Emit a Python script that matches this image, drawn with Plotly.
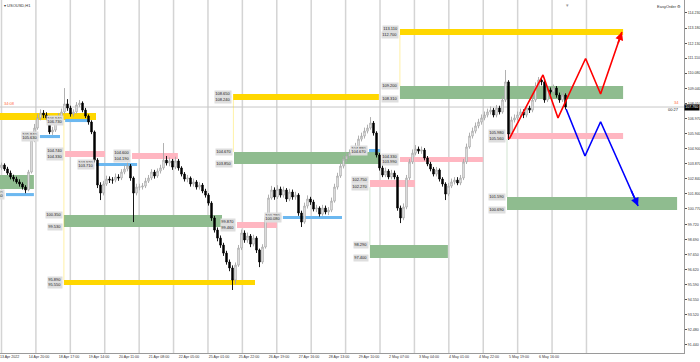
import numpy as np
import plotly.graph_objects as go

symbol = "USOUSD,H1"

# 2-hour candles (prices)
opens = [103.60,103.78,103.51,103.23,102.96,102.82,102.62,102.48,102.27,102.07,
         103.30,105.50,106.32,107.01,107.35,107.21,107.01,106.05,106.18,106.73,
         107.14,107.42,107.97,107.69,107.28,107.42,107.90,108.03,107.55,107.14,
         106.73,106.05,104.12,102.41,101.86,102.48,102.82,102.75,102.75,102.96,
         102.89,103.30,103.51,103.71,102.89,101.86,102.27,102.27,102.34,102.68,
         102.89,103.30,103.03,103.37,103.58,104.12,103.92,104.06,103.64,104.06,
         103.58,103.16,102.82,102.89,102.48,102.62,102.27,102.41,102.00,101.72,
         101.17,100.15,99.32,98.77,98.29,97.74,97.13,96.72,95.89,96.92,
         98.09,99.12,98.64,98.91,98.36,98.77,97.95,97.13,98.16,100.15,
         101.52,102.07,101.59,102.13,101.72,102.07,101.45,101.93,101.59,101.72,
         100.49,99.87,100.97,101.45,101.24,100.76,100.83,100.42,100.83,100.56,
         100.69,101.31,102.27,103.03,103.71,104.19,104.40,104.60,104.74,105.08,
         105.56,105.77,106.11,106.32,106.66,105.98,104.47,103.58,103.10,103.37,
         102.96,103.23,102.96,100.83,100.15,100.90,102.89,103.99,104.60,104.88,
         104.74,104.81,104.26,103.85,103.51,103.16,103.44,102.82,102.48,101.79,
         102.34,102.62,102.75,102.55,102.89,103.99,105.02,105.77,106.11,106.46,
         106.73,107.01,107.21,107.42,107.55,107.21,107.69,107.42,108.24,109.48,
         105.91,106.87,107.01,107.21,107.42,107.21,107.69,107.55,108.24,109.20,
         109.61,109.48,108.24,108.93,108.79,109.06,108.58,108.24,108.58]
highs = [103.95,103.90,103.66,103.40,103.12,102.98,102.80,102.60,102.40,103.45,
         105.70,106.60,107.30,107.60,107.55,107.40,107.15,106.40,106.95,107.35,
         107.65,109.06,108.30,107.85,107.60,108.10,108.24,108.15,107.70,107.25,
         106.85,106.15,104.25,102.60,102.70,103.05,103.00,102.95,103.20,103.15,
         103.50,103.75,103.95,103.85,103.00,102.50,102.50,102.55,102.90,103.10,
         103.50,103.45,103.55,103.80,105.29,104.40,104.30,104.20,104.35,104.20,
         103.70,103.30,103.10,103.00,102.85,102.75,102.60,102.55,102.15,101.85,
         101.30,100.30,99.50,98.95,98.45,97.90,97.30,96.90,97.10,98.30,
         99.35,99.30,99.15,99.05,99.00,98.90,98.05,98.35,100.40,101.75,
         102.35,102.25,102.40,102.30,102.30,102.20,102.15,102.10,101.95,101.85,
         100.65,101.20,101.70,101.60,101.40,101.05,100.95,101.05,101.00,100.90,
         101.55,102.50,103.25,103.95,104.40,104.60,104.85,104.95,105.30,105.80,
         106.00,106.35,106.55,107.07,106.80,106.10,104.60,103.75,103.60,103.50,
         103.45,103.40,103.10,101.00,101.15,103.10,104.20,104.85,105.15,105.05,
         105.05,104.95,104.40,104.00,103.65,103.65,103.55,102.95,102.60,102.55,
         102.85,102.95,102.95,103.10,104.20,105.25,106.00,106.35,106.70,106.95,
         107.25,107.45,107.65,107.80,107.70,107.90,107.85,108.50,110.30,109.60,
         107.10,107.25,107.45,107.65,107.60,107.90,107.85,108.45,109.45,109.82,
         109.80,109.60,109.15,109.10,109.30,109.20,108.75,108.80,108.70]
lows = [103.45,103.38,103.10,102.80,102.66,102.50,102.30,102.10,101.85,101.98,
        103.20,105.35,106.20,106.85,107.00,106.85,105.90,105.85,106.05,106.60,
        107.00,107.30,107.50,107.10,107.10,107.30,107.75,107.40,107.00,106.55,
        105.90,103.95,102.20,101.38,101.70,102.35,102.55,102.50,102.60,102.70,
        102.75,103.15,103.35,102.70,99.87,101.70,102.05,102.10,102.20,102.55,
        102.75,102.85,102.90,103.20,103.45,103.75,103.70,103.45,103.50,103.40,
        103.00,102.65,102.60,102.30,102.30,102.10,102.10,101.85,101.55,101.00,
        99.95,99.15,98.55,98.10,97.55,96.95,96.50,95.21,95.60,96.80,
        97.95,98.45,98.45,98.15,98.20,97.75,96.78,97.00,98.05,100.00,
        101.40,101.40,101.45,101.55,101.55,101.25,101.30,101.40,101.40,100.30,
        99.53,99.75,100.80,101.05,100.60,100.55,100.25,100.30,100.40,100.35,
        100.55,101.20,102.10,102.90,103.55,104.00,104.25,104.45,104.60,104.95,
        105.40,105.60,105.95,106.20,105.80,104.30,103.40,102.95,102.95,102.80,
        102.80,102.80,100.65,99.80,100.00,100.75,102.75,103.85,104.45,104.55,
        104.55,104.10,103.70,103.35,103.00,103.00,102.65,102.30,101.38,101.65,
        102.20,102.45,102.40,102.40,102.75,103.85,104.90,105.60,105.95,106.30,
        106.55,106.85,107.05,107.25,107.05,107.05,107.25,107.30,108.10,105.50,
        105.75,106.70,106.85,107.05,107.00,107.05,107.35,107.40,108.10,109.05,
        109.25,108.05,108.10,108.60,108.65,108.40,108.05,108.10,107.60]
closes = [103.78,103.51,103.23,102.96,102.82,102.62,102.48,102.27,102.07,103.30,
          105.50,106.32,107.01,107.35,107.21,107.01,106.05,106.18,106.73,107.14,
          107.42,107.97,107.69,107.28,107.42,107.90,108.03,107.55,107.14,106.73,
          106.05,104.12,102.41,101.86,102.48,102.82,102.75,102.75,102.96,102.89,
          103.30,103.51,103.71,102.89,101.86,102.27,102.27,102.34,102.68,102.89,
          103.30,103.03,103.37,103.58,104.12,103.92,104.06,103.64,104.06,103.58,
          103.16,102.82,102.89,102.48,102.62,102.27,102.41,102.00,101.72,101.17,
          100.15,99.32,98.77,98.29,97.74,97.13,96.72,95.89,96.92,98.09,
          99.12,98.64,98.91,98.36,98.77,97.95,97.13,98.16,100.15,101.52,
          102.07,101.59,102.13,101.72,102.07,101.45,101.93,101.59,101.72,100.49,
          99.87,100.97,101.45,101.24,100.76,100.83,100.42,100.83,100.56,100.69,
          101.31,102.27,103.03,103.71,104.19,104.40,104.60,104.74,105.08,105.56,
          105.77,106.11,106.32,106.66,105.98,104.47,103.58,103.10,103.37,102.96,
          103.23,102.96,100.83,100.15,100.90,102.89,103.99,104.60,104.88,104.74,
          104.81,104.26,103.85,103.51,103.16,103.44,102.82,102.48,101.79,102.34,
          102.62,102.75,102.55,102.89,103.99,105.02,105.77,106.11,106.46,106.73,
          107.01,107.21,107.42,107.55,107.21,107.69,107.42,108.24,109.48,105.91,
          106.87,107.01,107.21,107.42,107.21,107.69,107.55,108.24,109.20,109.61,
          109.48,108.24,108.93,108.79,109.06,108.58,108.24,108.58,107.76]

time_labels = ["13 Apr 2022", "14 Apr 20:00", "18 Apr 17:00", "19 Apr 14:00", "20 Apr 11:00",
               "21 Apr 08:00", "22 Apr 05:00", "25 Apr 01:00", "25 Apr 22:00", "26 Apr 19:00",
               "27 Apr 16:00", "28 Apr 13:00", "29 Apr 10:00", "2 May 07:00", "3 May 04:00",
               "4 May 01:00", "4 May 22:00", "5 May 19:00", "6 May 16:00"]
price_labels = ["114.230", "113.180", "112.130", "111.110", "110.080", "109.040", "108.010",
                "106.970", "105.940", "104.900", "103.870", "102.840", "101.800", "100.770",
                "99.720", "98.690", "97.650", "96.620", "95.590", "94.550", "93.520",
                "92.480", "91.440"]

# supply / demand rectangles (time in candle units, prices)
zone_kind = ["gold", "blue", "blue", "green", "blue", "pink", "pink", "blue", "green", "gold",
             "green", "gold", "pink", "blue", "blue", "pink", "pink", "green", "gold", "green",
             "pink", "green"]
zone_start = [-10, 21.2, 12.8, -10, 1.5, 21.2, 43.5, 31.5, 20.8, 20.8,
              77.5, 77.2, 78.5, 93.8, 122.5, 122.8, 132.8, 122.8, 132.8, 132.8,
              168.5, 168.5]
zone_end = [31.5, 29.5, 19.5, 10.8, 10.8, 34.5, 58.8, 45.2, 73.5, 84.5,
            126.2, 125.8, 91.8, 113.5, 126.2, 137.8, 160.5, 148.8, 207.2, 207.2,
            207.2, 225.2]
zone_high = [107.35, 106.94, 105.84, 103.10, 101.86, 104.74, 104.60, 103.92, 100.35, 95.89,
             104.67, 108.65, 99.87, 100.28, 104.88, 102.75, 104.33, 98.29, 113.11, 109.20,
             105.98, 101.59]
zone_low = [106.87, 106.73, 105.63, 102.13, 101.65, 104.33, 104.19, 103.71, 99.53, 95.55,
            103.85, 108.24, 99.46, 100.08, 104.67, 102.27, 103.99, 97.40, 112.70, 108.31,
            105.56, 100.69]

# faint vertical connectors between paired zones
conn_t = [20.8, 77.3, 132.8, 122.8, 168.5]
conn_top = [106.87, 108.24, 112.70, 102.27, 105.56]
conn_bot = [95.89, 104.67, 109.20, 98.29, 101.59]
conn_kind = ["gold", "gold", "gold", "green", "green"]

# projected paths
bull_t = [169.2, 180.5, 185.5, 194.7, 199.7, 206.8]
bull_p = [105.56, 109.96, 107.01, 111.09, 108.65, 112.90]
bear_t = [188.2, 194.5, 199.7, 212.2]
bear_p = [107.62, 104.40, 106.75, 100.97]

last_price = closes[-1]

kind_color = {"gold": "#FFD700", "green": "#8FBC8F", "pink": "#FFB6C1", "blue": "#6CB8F0"}
conn_color = {"gold": "rgba(255,215,0,0.35)", "green": "rgba(143,188,143,0.4)"}
FONT = "Liberation Sans"

fig = go.Figure()

# grid lines (every 24 hours)
grid_t = np.arange(0, 196, 11.47)
for g in grid_t:
    fig.add_shape(type="line", xref="x", yref="paper", x0=g, x1=g, y0=0, y1=1,
                  line=dict(color="#d4d4d4", width=1.5), layer="below")

for k in range(len(zone_kind)):
    fig.add_shape(type="rect", xref="x", yref="y", x0=zone_start[k], x1=zone_end[k],
                  y0=zone_low[k], y1=zone_high[k], fillcolor=kind_color[zone_kind[k]],
                  line=dict(width=0), layer="below")

for k in range(len(conn_t)):
    fig.add_shape(type="line", xref="x", yref="y", x0=conn_t[k], x1=conn_t[k],
                  y0=conn_bot[k], y1=conn_top[k],
                  line=dict(color=conn_color[conn_kind[k]], width=1), layer="below")

# current price line
fig.add_shape(type="line", xref="paper", yref="y", x0=0, x1=1, y0=last_price, y1=last_price,
              line=dict(color="#c8c8c8", width=1), layer="below")

fig.add_trace(go.Candlestick(
    x=np.arange(len(closes)), open=opens, high=highs, low=lows, close=closes,
    increasing=dict(line=dict(color="#a8a8a8", width=0.9), fillcolor="#ffffff"),
    decreasing=dict(line=dict(color="#000000", width=0.9), fillcolor="#000000"),
    whiskerwidth=0, hoverinfo="skip", showlegend=False))

fig.add_trace(go.Scatter(x=bull_t, y=bull_p, mode="lines",
                         line=dict(color="#ff0000", width=1.6), hoverinfo="skip", showlegend=False))
fig.add_trace(go.Scatter(x=bear_t, y=bear_p, mode="lines",
                         line=dict(color="#0000ff", width=1.6), hoverinfo="skip", showlegend=False))
for tt, pp, col in ((bull_t, bull_p, "#ff0000"), (bear_t, bear_p, "#0000ff")):
    fig.add_annotation(x=tt[-1], y=pp[-1], ax=tt[-2] + (tt[-1] - tt[-2]) * 0.8,
                       ay=pp[-2] + (pp[-1] - pp[-2]) * 0.8, xref="x", yref="y",
                       axref="x", ayref="y", text="", showarrow=True, arrowhead=2,
                       arrowsize=1, arrowwidth=1.6, arrowcolor=col, standoff=0)

# price labels of the rectangles
for k in range(len(zone_kind)):
    for val in (zone_high[k], zone_low[k]):
        fig.add_annotation(x=zone_start[k], y=val, xref="x", yref="y", text=f"{val:.3f}",
                           showarrow=False, xanchor="right", yanchor="middle", xshift=-1,
                           font=dict(family=FONT, size=4, color="#222222"),
                           bgcolor="#dedede", borderpad=0.3)

# terminal decorations
fig.add_annotation(x=0.003, y=1, xref="paper", yref="paper", text="▾ " + symbol,
                   showarrow=False, xanchor="left", yanchor="top", yshift=-1,
                   font=dict(family=FONT, size=4, color="#333333"))
fig.add_annotation(x=0.998, y=1, xref="paper", yref="paper", text="EasyOrder ⚙",
                   showarrow=False, xanchor="right", yanchor="top", yshift=-2,
                   font=dict(family=FONT, size=4, color="#333333"))
fig.add_annotation(x=0.003, y=108.0, xref="paper", yref="y", text="34:08",
                   showarrow=False, xanchor="left", yanchor="middle",
                   font=dict(family=FONT, size=4, color="#ff6a3d"))
fig.add_annotation(x=0.996, y=108.05, xref="paper", yref="y", text="34",
                   showarrow=False, xanchor="right", yanchor="middle",
                   font=dict(family=FONT, size=4, color="#ff6a3d"))
fig.add_annotation(x=0.996, y=107.6, xref="paper", yref="y", text="00:27",
                   showarrow=False, xanchor="right", yanchor="middle",
                   font=dict(family=FONT, size=4, color="#222222"))
fig.add_annotation(x=1, y=last_price, xref="paper", yref="y", text=f"{last_price:.3f}",
                   showarrow=False, xanchor="left", yanchor="middle", xshift=0,
                   font=dict(family=FONT, size=3.6, color="#ffffff"), bgcolor="#000000",
                   borderpad=0.3)
fig.add_annotation(x=567 / 684, y=1, xref="paper", yref="paper", text="▾",
                   showarrow=False, xanchor="center", yanchor="top",
                   font=dict(family=FONT, size=5, color="#9a9a9a"))

tick_pos = [2.7] + [12.5 + 10 * k for k in range(len(time_labels) - 1)]

fig.update_layout(
    width=700, height=362, margin=dict(l=0, r=16, t=0, b=9, autoexpand=False),
    paper_bgcolor="#ffffff", plot_bgcolor="#ffffff", showlegend=False, hovermode=False,
    xaxis=dict(range=[-0.5, 227.5], showgrid=False, zeroline=False, rangeslider=dict(visible=False),
               tickmode="array", tickvals=tick_pos, ticktext=time_labels, ticks="",
               ticklabeloverflow="allow", automargin=False,
               tickfont=dict(family=FONT, size=3.6, color="#333333"),
               showline=True, linecolor="#9a9a9a", linewidth=1),
    yaxis=dict(range=[90.89, 115.10], side="right", showgrid=False, zeroline=False,
               tickmode="array", tickvals=[float(v) for v in price_labels], ticktext=price_labels,
               ticks="outside", ticklen=2, tickcolor="#555555", ticklabeloverflow="allow",
               automargin=False,
               tickfont=dict(family=FONT, size=3.6, color="#333333"),
               showline=True, linecolor="#9a9a9a", linewidth=1),
)

fig.write_html("out.html", config={"displayModeBar": False, "staticPlot": True},
               post_script="document.body.style.margin='0';document.body.style.overflow='hidden';")
